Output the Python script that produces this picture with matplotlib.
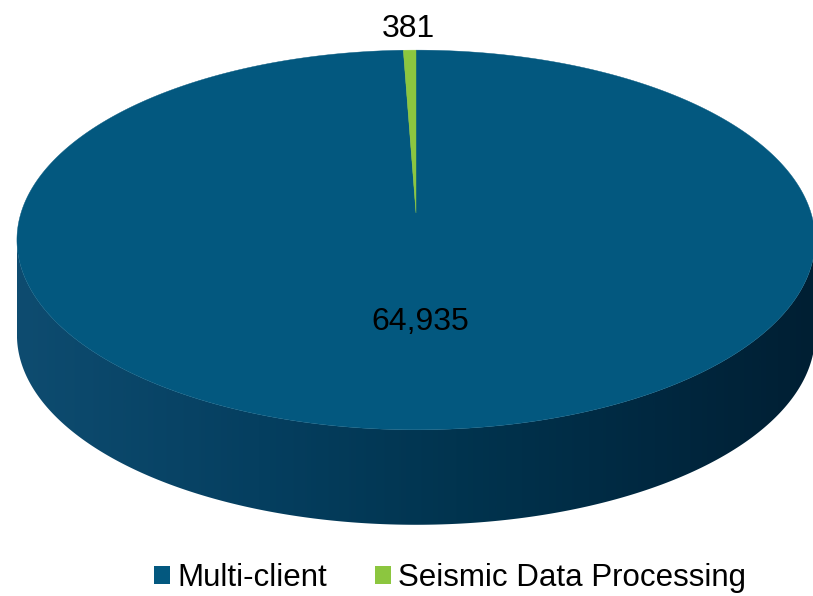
import numpy as np
import matplotlib
matplotlib.use('Agg')
import matplotlib.pyplot as plt
from matplotlib.patches import Polygon, Patch
from matplotlib.colors import LinearSegmentedColormap

plt.rcParams['font.family'] = ['Liberation Sans', 'DejaVu Sans']

# data
labels = ['Multi-client', 'Seismic Data Processing']
values = [64935, 381]
colors = ['#03587f', '#8cc63f']

# 3D pie geometry (pixels)
CX, CY = 416, 213        # pie centre on the top face
A, B = 395, 186          # half width / half depth
P = 0.142                # perspective factor
DEPTH = 95               # side wall height

def proj(theta, r=1.0):
    # theta in degrees, clockwise from 12 o'clock
    t = np.radians(theta)
    u = r * np.sin(t)
    v = -r * np.cos(t)          # v > 0 is towards the viewer
    w = 1 - P * v
    return CX + A * u / w, CY + B * v / w

W, H = 813, 596
fig = plt.figure(figsize=(W / 100, H / 100), dpi=100)
ax = fig.add_axes([0, 0, 1, 1])
ax.set_xlim(0, W)
ax.set_ylim(H, 0)
ax.axis('off')

# side wall
th = np.linspace(0, 360, 1441)
ox, oy = proj(th)
i_l = np.argmin(ox)
i_r = np.argmax(ox)
arc = np.arange(i_r, i_l + 1)
top_x, top_y = ox[arc], oy[arc]
side = np.concatenate([np.column_stack([top_x, top_y]),
                       np.column_stack([top_x[::-1], top_y[::-1] + DEPTH])])
side_poly = Polygon(side, closed=True, facecolor='none', edgecolor='none')
ax.add_patch(side_poly)
side_cmap = LinearSegmentedColormap.from_list(
    'side', [(0.0, '#0e4c70'), (0.3, '#053f60'), (0.55, '#01344f'),
             (0.8, '#002840'), (1.0, '#001f33')])
grad = np.linspace(0, 1, 400).reshape(1, -1)
img = ax.imshow(grad, cmap=side_cmap, aspect='auto',
                extent=[ox.min(), ox.max(), oy.max() + DEPTH, oy.min()],
                zorder=1)
img.set_clip_path(side_poly)

# top face wedges
total = sum(values)
start = 0.0
mids = []
for val, col in zip(values, colors):
    span = 360.0 * val / total
    tt = np.linspace(start, start + span, max(int(span * 4), 4))
    px, py = proj(tt)
    pts = np.column_stack([np.r_[CX, px], np.r_[CY, py]])
    ax.add_patch(Polygon(pts, closed=True, facecolor=col, edgecolor=col,
                         linewidth=0.3, zorder=2))
    mids.append(start + span / 2)
    start += span

# data labels
lx, ly = proj(mids[0], 0.54)
ax.text(lx, ly, f'{values[0]:,}', fontsize=23, ha='center', va='center', zorder=3)
lx, ly = proj(mids[1], 1.15)
ax.text(lx, ly, f'{values[1]:,}', fontsize=23, ha='center', va='center', zorder=3)

handles = [Patch(facecolor=c, edgecolor='none', label=l) for c, l in zip(colors, labels)]
ax.legend(handles=handles, loc='center', bbox_to_anchor=(450, 578),
          bbox_transform=ax.transData, ncol=2, frameon=False, fontsize=22.5,
          handlelength=0.5, handleheight=0.5, handletextpad=0.22,
          columnspacing=1.55, borderpad=0, borderaxespad=0)

fig.savefig('out.png', dpi=100, facecolor='white')
